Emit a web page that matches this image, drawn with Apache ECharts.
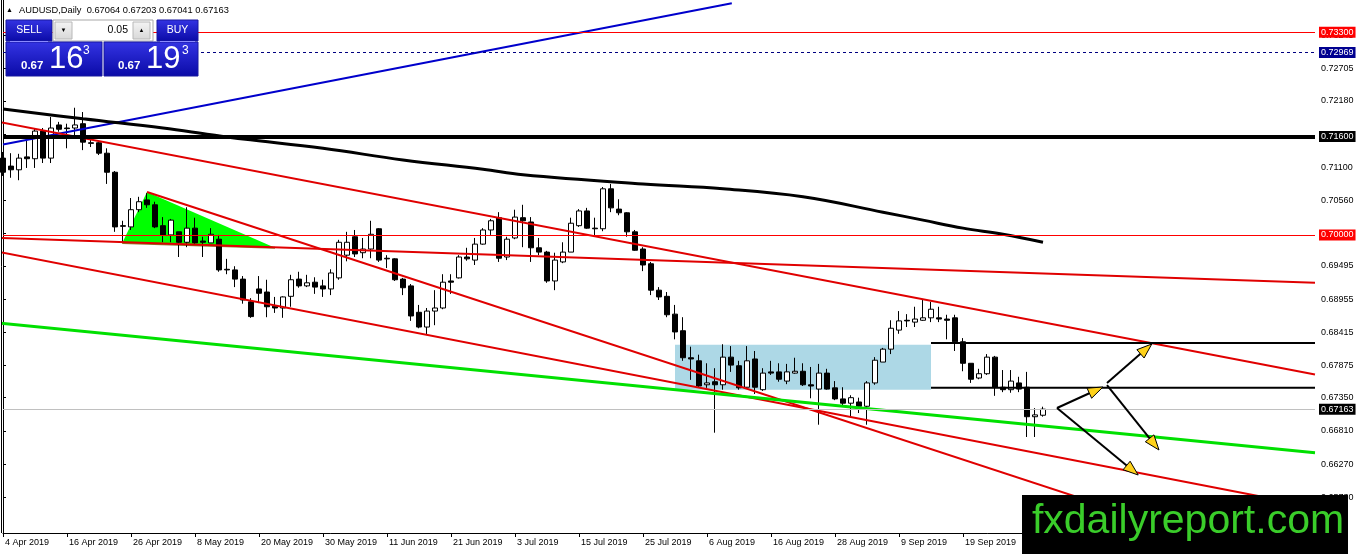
<!DOCTYPE html>
<html>
<head>
<meta charset="utf-8">
<script src="https://cdn.jsdelivr.net/npm/echarts@6/dist/echarts.min.js"></script>
<style>
html,body{margin:0;padding:0;background:#fff;}
#chart{width:1362px;height:554px;}
</style>
</head>
<body>
<div id="chart"></div>
<script>
// ---------- DATA ----------
const startDay = [2019, 3, 4];   // 4 Apr 2019, first daily bar
const totalSlots = 165;          // bars + empty right-side shift
const months = ['Jan','Feb','Mar','Apr','May','Jun','Jul','Aug','Sep','Oct','Nov','Dec'];

const opens = [
0.7125,0.7112,0.7106,0.7127,0.7124,0.7169,0.7125,0.7179,0.7174,0.7174,
0.7181,0.7150,0.7150,0.7133,0.7102,0.7015,0.7013,0.7041,0.7057,0.7049,
0.7015,0.7000,0.7005,0.6988,0.7011,0.6990,0.6987,0.6993,0.6944,0.6943,
0.6928,0.6891,0.6912,0.6907,0.6884,0.6881,0.6900,0.6928,0.6917,0.6923,
0.6917,0.6912,0.6930,0.6967,0.6997,0.6971,0.6977,0.7010,0.6962,0.6961,
0.6928,0.6917,0.6874,0.6850,0.6876,0.6881,0.6925,0.6930,0.6964,0.6959,
0.6985,0.7008,0.7028,0.6964,0.6995,0.7028,0.7021,0.6979,0.6972,0.6925,
0.6956,0.6972,0.7015,0.7039,0.7011,0.7010,0.7075,0.7042,0.7036,0.7005,
0.6977,0.6953,0.6910,0.6900,0.6871,0.6844,0.6800,0.6795,0.6756,0.6761,
0.6756,0.6801,0.6787,0.6752,0.6798,0.6748,0.6777,0.6777,0.6762,0.6775,
0.6778,0.6756,0.6749,0.6775,0.6751,0.6733,0.6726,0.6728,0.6721,0.6759,
0.6793,0.6814,0.6845,0.6861,0.6858,0.6861,0.6865,0.6865,0.6863,0.6865,
0.6826,0.6791,0.6767,0.6774,0.6801,0.6752,0.6748,0.6759,0.6752,0.6704,
0.67064];
const closes = [
0.7102,0.7106,0.7125,0.7124,0.7169,0.7125,0.7174,0.7172,0.7173,0.7179,
0.7151,0.7149,0.7133,0.7102,0.7013,0.7014,0.7041,0.7054,0.7049,0.7013,
0.7000,0.7024,0.6988,0.7011,0.6987,0.6988,0.7001,0.6943,0.6943,0.6928,
0.6894,0.6867,0.6905,0.6883,0.6881,0.6899,0.6927,0.6917,0.6922,0.6915,
0.6912,0.6938,0.6988,0.6988,0.6969,0.6977,0.7001,0.6959,0.6961,0.6927,
0.6914,0.6868,0.6850,0.6876,0.6881,0.6923,0.6923,0.6964,0.6961,0.6985,
0.7008,0.7023,0.6962,0.6993,0.7029,0.7023,0.6979,0.6972,0.6925,0.6959,
0.6972,0.7019,0.7039,0.7011,0.7010,0.7075,0.7044,0.7036,0.7005,0.6975,
0.6951,0.6910,0.6899,0.6870,0.6842,0.6800,0.6798,0.6754,0.6759,0.6756,
0.6801,0.6788,0.6751,0.6795,0.6752,0.6775,0.6775,0.6765,0.6777,0.6778,
0.6756,0.6754,0.6775,0.6749,0.6733,0.6726,0.6735,0.6721,0.6759,0.6796,
0.6814,0.6848,0.6860,0.6860,0.6863,0.6865,0.6879,0.6863,0.6861,0.6826,
0.6791,0.6765,0.6774,0.6801,0.6752,0.6748,0.6762,0.6749,0.6704,0.6707,
0.67163];
const lows = [
0.7096,0.7093,0.7089,0.7109,0.7109,0.7117,0.7117,0.7168,0.7141,0.7158,
0.7138,0.7143,0.7130,0.7083,0.7005,0.6988,0.7008,0.7037,0.7044,0.7011,
0.6988,0.6988,0.6964,0.6980,0.6984,0.6964,0.6987,0.6940,0.6936,0.6915,
0.6888,0.6865,0.6889,0.6866,0.6873,0.6865,0.6883,0.6914,0.6915,0.6904,
0.6899,0.6902,0.6927,0.6957,0.6964,0.6962,0.6962,0.6956,0.6946,0.6925,
0.6902,0.6860,0.6848,0.6837,0.6853,0.6879,0.6904,0.6929,0.6958,0.6951,
0.6984,0.7000,0.6956,0.6959,0.6993,0.6980,0.6956,0.6967,0.6922,0.6910,
0.6954,0.6972,0.7013,0.7010,0.6997,0.7006,0.7037,0.7032,0.6997,0.6974,
0.6941,0.6902,0.6894,0.6866,0.6830,0.6795,0.6764,0.6751,0.6751,0.6678,
0.6748,0.6777,0.6748,0.6751,0.6741,0.6746,0.6772,0.6761,0.6757,0.6774,
0.6754,0.6734,0.6691,0.6748,0.6731,0.6723,0.6705,0.6710,0.6691,0.6756,
0.6793,0.6806,0.6839,0.6850,0.6850,0.6860,0.6858,0.6858,0.6830,0.6811,
0.6778,0.6759,0.6765,0.6772,0.6738,0.6744,0.6743,0.6744,0.6671,0.6671,
0.67041];
const highs = [
0.7135,0.7133,0.7132,0.7153,0.7174,0.7174,0.7192,0.7184,0.7181,0.7207,
0.7200,0.7155,0.7151,0.7141,0.7104,0.7023,0.7060,0.7062,0.7068,0.7054,
0.7029,0.7026,0.7005,0.7045,0.7028,0.6997,0.7011,0.7000,0.6961,0.6949,
0.6933,0.6897,0.6933,0.6927,0.6899,0.6900,0.6935,0.6940,0.6935,0.6931,
0.6927,0.6944,0.6992,0.7005,0.7008,0.6995,0.7023,0.7011,0.6967,0.6962,
0.6930,0.6920,0.6886,0.6881,0.6910,0.6936,0.6936,0.6967,0.6979,0.6995,
0.7011,0.7026,0.7037,0.6997,0.7041,0.7049,0.7029,0.6995,0.6974,0.6971,
0.6988,0.7028,0.7042,0.7044,0.7028,0.7078,0.7083,0.7058,0.7037,0.7008,
0.6980,0.6956,0.6915,0.6907,0.6886,0.6866,0.6818,0.6805,0.6791,0.6783,
0.6822,0.6819,0.6795,0.6819,0.6811,0.6783,0.6795,0.6791,0.6790,0.6800,
0.6791,0.6785,0.6790,0.6782,0.6762,0.6752,0.6739,0.6735,0.6762,0.6801,
0.6816,0.6861,0.6876,0.6871,0.6883,0.6894,0.6891,0.6883,0.6870,0.6870,
0.6832,0.6791,0.6782,0.6806,0.6803,0.6780,0.6780,0.6769,0.6777,0.6718,
0.67203];

// moving average (read at selected bars)
const maIdx = [0,10,20,26,30,40,50,60,65,80,90,100,110,115,120,125,130];
const maVal = [0.7205,0.7189,0.7174,0.7163,0.7156,0.7141,0.7122,0.7107,0.7098,0.7083,0.7075,0.7062,0.7037,0.7024,0.7011,0.7001,0.6988];

// trend lines: [barIndex, price] end points
const blueLine   = [[0, 0.7147], [91.1, 0.7377]];
const redTop     = [[-0.4, 0.71838], [164, 0.67727]];
const redFlat    = [[-0.4, 0.69949], [164, 0.69222]];
const redMid     = [[-0.4, 0.69721], [164, 0.65570]];
const redSteep   = [[18, 0.70698], [164, 0.64463]];
const greenLine  = [[-0.4, 0.68565], [164, 0.66454]];
const blackUpper = [[116, 0.6824], [164, 0.6824]];
const blackLower = [[116, 0.6751], [164, 0.6751]];

// shapes
const triX = [14.9, 18, 34];
const triY = [0.6987, 0.7070, 0.6979];
const rectX = [84, 116];
const rectY = [0.6748, 0.6821];

// arrows: start bar, start price, end bar, end price
const arrowX0 = [131.75, 138, 138, 131.75];
const arrowY0 = [0.67182, 0.67589, 0.67556, 0.67182];
const arrowX1 = [137.5, 143.6, 144.5, 141.9];
const arrowY1 = [0.67524, 0.68224, 0.66498, 0.66091];

// horizontal price levels and their label colours
const levelValues = [0.73300, 0.72969, 0.71600, 0.70000, 0.67163];
const levelLineColors = ['#ff0000', '#000080', '#000000', '#ff0000', '#c0c0c0'];
const levelLineWidths = [1, 1, 4, 1, 1];
const levelLineTypes = ['solid', [3, 3], 'solid', 'solid', 'solid'];
const levelLabelBg = ['#ff0000', '#000090', '#000000', '#ff0000', '#000000'];

// y-axis tick labels
const yTickValues = [0.73245,0.72705,0.72180,0.71640,0.71100,0.70560,0.70020,0.69495,0.68955,0.68415,0.67875,0.67350,0.66810,0.66270,0.65730];

const headerText = 'AUDUSD,Daily  0.67064 0.67203 0.67041 0.67163';
const sellBig = ['0.67', '16', '3'];
const buyBig = ['0.67', '19', '3'];
const lotText = '0.05';
const watermark = 'fxdailyreport.com';

// ---------- BUILD ----------
const categories = [];
for (let t = Date.UTC(startDay[0], startDay[1], startDay[2]); categories.length < totalSlots; t += 86400000) {
  const d = new Date(t), wd = d.getUTCDay();
  if (wd === 0 || wd === 6) continue;
  categories.push(d.getUTCDate() + ' ' + months[d.getUTCMonth()] + ' ' + d.getUTCFullYear());
}
const candleData = opens.map((o, i) => [o, closes[i], lows[i], highs[i]]);
const maData = maIdx.map((x, i) => [x, maVal[i]]);
const arrowData = arrowX0.map((x, i) => [x, arrowY0[i], arrowX1[i], arrowY1[i]]);

const FONT = "'Liberation Sans', Arial, sans-serif";
const YMAX = 0.73824, YMIN = 0.65147;

function seg(data, color, width, z) {
  return { type: 'line', xAxisIndex: 1, data: data, symbol: 'none', silent: true,
    lineStyle: { color: color, width: width }, z: z || 4, animation: false };
}

const chart = echarts.init(document.getElementById('chart'), null, { renderer: 'canvas' });

const blueGrad = new echarts.graphic.LinearGradient(0, 0, 0, 1, [
  { offset: 0, color: '#3434e4' }, { offset: 1, color: '#0a0aa6' }]);
const btnGrad = new echarts.graphic.LinearGradient(0, 0, 0, 1, [
  { offset: 0, color: '#f4f4f4' }, { offset: 1, color: '#d8d8d8' }]);

const option = {
  animation: false,
  backgroundColor: '#ffffff',
  textStyle: { fontFamily: FONT },
  grid: { left: 3, right: 47, top: 0, bottom: 21, containLabel: false },
  xAxis: [{
    type: 'category', data: categories, boundaryGap: false,
    axisLine: { show: true, lineStyle: { color: '#000', width: 1 } },
    axisTick: { show: true, interval: 7, length: 4, lineStyle: { color: '#000' } },
    axisLabel: { show: true, interval: 7, align: 'left', fontSize: 9, color: '#000', margin: 5, fontFamily: FONT, padding: [0, 0, 0, 2] },
    splitLine: { show: false }
  }, {
    type: 'value', min: 0, max: totalSlots - 1, show: false
  }],
  yAxis: {
    type: 'value', position: 'right', min: YMIN, max: YMAX,
    axisLine: { show: true, lineStyle: { color: '#000', width: 1 } },
    axisTick: { show: true, length: 3, customValues: yTickValues, lineStyle: { color: '#000' } },
    axisLabel: { show: true, customValues: yTickValues, formatter: v => v.toFixed(5), fontSize: 9, color: '#000', margin: 6, fontFamily: FONT },
    splitLine: { show: false }
  },
  series: [
    {
      type: 'custom', xAxisIndex: 1, z: 1, silent: true, data: [[0, 0.7]],
      renderItem: function (params, api) {
        const tri = triX.map((x, i) => api.coord([x, triY[i]]));
        const r0 = api.coord([rectX[0], rectY[1]]);
        const r1 = api.coord([rectX[1], rectY[0]]);
        return { type: 'group', children: [
          { type: 'rect', shape: { x: r0[0], y: r0[1], width: r1[0] - r0[0], height: r1[1] - r0[1] }, style: { fill: '#add8e6' } },
          { type: 'polygon', shape: { points: tri }, style: { fill: '#00ff00' } },
          { type: 'line', shape: { x1: tri[0][0], y1: tri[0][1], x2: tri[2][0], y2: tri[2][1] }, style: { stroke: '#8a7a2a', lineWidth: 2 } }
        ] };
      }
    },
    {
      type: 'candlestick', xAxisIndex: 0, data: candleData, barWidth: 5, clip: false, z: 3, silent: true,
      itemStyle: { color: '#ffffff', color0: '#000000', borderColor: '#000000', borderColor0: '#000000', borderWidth: 1 }
    },
    seg(blueLine, '#0000cc', 2),
    seg(redTop, '#e00000', 2),
    seg(redFlat, '#e00000', 2),
    seg(redMid, '#e00000', 2),
    seg(redSteep, '#e00000', 2),
    seg(greenLine, '#00e000', 3),
    seg(blackUpper, '#000000', 2),
    seg(blackLower, '#000000', 2),
    {
      type: 'line', xAxisIndex: 1, data: maData, symbol: 'none', smooth: 0.4, silent: true, z: 4,
      lineStyle: { color: '#000', width: 3 },
      markLine: {
        silent: true, symbol: 'none', animation: false, precision: 5,
        data: levelValues.map((v, i) => ({
          yAxis: v,
          lineStyle: { color: levelLineColors[i], width: levelLineWidths[i], type: levelLineTypes[i] },
          label: { show: true, position: 'end', distance: 4, formatter: v.toFixed(5),
            color: '#fff', backgroundColor: levelLabelBg[i], padding: [1, 2, 0, 2],
            fontSize: 9, fontFamily: FONT, lineHeight: 10 }
        }))
      }
    },
    {
      type: 'custom', xAxisIndex: 1, z: 6, silent: true, data: arrowData,
      renderItem: function (params, api) {
        const p0 = api.coord([api.value(0), api.value(1)]);
        const p1 = api.coord([api.value(2), api.value(3)]);
        const dx = p1[0] - p0[0], dy = p1[1] - p0[1];
        const len = Math.sqrt(dx * dx + dy * dy);
        const ux = dx / len, uy = dy / len;
        const L = 15, W = 5.5;
        const bx = p1[0] - ux * L, by = p1[1] - uy * L;
        return { type: 'group', children: [
          { type: 'line', shape: { x1: p0[0], y1: p0[1], x2: bx, y2: by }, style: { stroke: '#000', lineWidth: 2 } },
          { type: 'polygon', shape: { points: [[p1[0], p1[1]], [bx - uy * W, by + ux * W], [bx + uy * W, by - ux * W]] },
            style: { fill: '#ffd21a', stroke: '#000', lineWidth: 1 } }
        ] };
      }
    }
  ],
  graphic: [
    { type: 'line', z: 100, shape: { x1: 1.5, y1: 0, x2: 1.5, y2: 533 }, style: { stroke: '#000', lineWidth: 1 } },
    // header
    { type: 'text', z: 100, x: 6, y: 10, style: { text: '▲', fontSize: 7, fill: '#000', verticalAlign: 'middle', fontFamily: FONT } },
    { type: 'text', z: 100, x: 19, y: 10, style: { text: headerText, fontSize: 9.3, fill: '#000', verticalAlign: 'middle', fontFamily: FONT } },
    // sell button
    { type: 'rect', z: 100, shape: { x: 6, y: 20, width: 46, height: 21 }, style: { fill: blueGrad, stroke: '#1818a0', lineWidth: 1 } },
    { type: 'text', z: 101, x: 29, y: 30.5, style: { text: 'SELL', fontSize: 10.5, fill: '#fff', align: 'center', verticalAlign: 'middle', fontFamily: FONT } },
    { type: 'line', z: 101, shape: { x1: 10, y1: 41.5, x2: 48, y2: 41.5 }, style: { stroke: '#8a8aff', lineWidth: 1 } },
    // lot spinner
    { type: 'rect', z: 100, shape: { x: 53, y: 20, width: 100, height: 21 }, style: { fill: '#fff', stroke: '#a8a8a8', lineWidth: 1 } },
    { type: 'rect', z: 101, shape: { x: 55, y: 22, width: 17, height: 17 }, style: { fill: btnGrad, stroke: '#b8b8b8', lineWidth: 1 } },
    { type: 'text', z: 102, x: 63.5, y: 30.5, style: { text: '▼', fontSize: 6, fill: '#000', align: 'center', verticalAlign: 'middle', fontFamily: FONT } },
    { type: 'rect', z: 101, shape: { x: 133, y: 22, width: 17, height: 17 }, style: { fill: btnGrad, stroke: '#b8b8b8', lineWidth: 1 } },
    { type: 'text', z: 102, x: 141.5, y: 30.5, style: { text: '▲', fontSize: 6, fill: '#000', align: 'center', verticalAlign: 'middle', fontFamily: FONT } },
    { type: 'text', z: 101, x: 128, y: 30.5, style: { text: lotText, fontSize: 10.5, fill: '#000', align: 'right', verticalAlign: 'middle', fontFamily: FONT } },
    // buy button
    { type: 'rect', z: 100, shape: { x: 157, y: 20, width: 41, height: 21 }, style: { fill: blueGrad, stroke: '#1818a0', lineWidth: 1 } },
    { type: 'text', z: 101, x: 177.5, y: 30.5, style: { text: 'BUY', fontSize: 10.5, fill: '#fff', align: 'center', verticalAlign: 'middle', fontFamily: FONT } },
    { type: 'line', z: 101, shape: { x1: 160, y1: 41.5, x2: 195, y2: 41.5 }, style: { stroke: '#8a8aff', lineWidth: 1 } },
    // price boxes
    { type: 'rect', z: 100, shape: { x: 6, y: 42, width: 96, height: 34 }, style: { fill: blueGrad, stroke: '#1818a0', lineWidth: 1 } },
    { type: 'rect', z: 100, shape: { x: 104, y: 42, width: 94, height: 34 }, style: { fill: blueGrad, stroke: '#1818a0', lineWidth: 1 } },
    { type: 'text', z: 101, x: 21, y: 65.5, style: { text: sellBig[0], fontSize: 11.5, fontWeight: 'bold', fill: '#fff', verticalAlign: 'middle', fontFamily: FONT } },
    { type: 'text', z: 101, x: 49, y: 59, style: { text: sellBig[1], fontSize: 31, fill: '#fff', verticalAlign: 'middle', fontFamily: FONT } },
    { type: 'text', z: 101, x: 83, y: 51, style: { text: sellBig[2], fontSize: 12, fill: '#fff', verticalAlign: 'middle', fontFamily: FONT } },
    { type: 'text', z: 101, x: 118, y: 65.5, style: { text: buyBig[0], fontSize: 11.5, fontWeight: 'bold', fill: '#fff', verticalAlign: 'middle', fontFamily: FONT } },
    { type: 'text', z: 101, x: 146, y: 59, style: { text: buyBig[1], fontSize: 31, fill: '#fff', verticalAlign: 'middle', fontFamily: FONT } },
    { type: 'text', z: 101, x: 182, y: 51, style: { text: buyBig[2], fontSize: 12, fill: '#fff', verticalAlign: 'middle', fontFamily: FONT } },
    // watermark
    { type: 'rect', z: 110, shape: { x: 1022, y: 495, width: 326, height: 59 }, style: { fill: '#000' } },
    { type: 'text', z: 111, x: 1188, y: 522, style: { text: watermark, fontSize: 41, fill: '#3acd2a', align: 'center', verticalAlign: 'middle', fontFamily: FONT } }
  ]
};
chart.setOption(option);
</script>
</body>
</html>
